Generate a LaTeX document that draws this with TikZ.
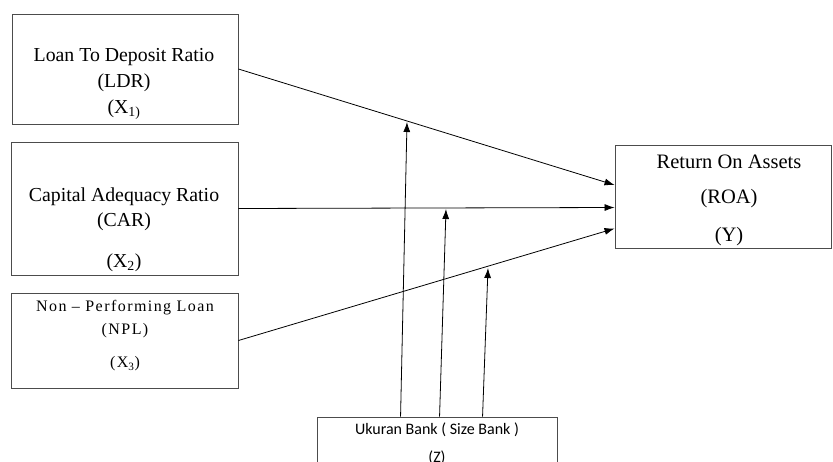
\documentclass[tikz,border=0pt]{standalone}
\usepackage{fontspec}
\setmainfont{Liberation Serif}
\newfontfamily\calibfont{Carlito}
\newfontfamily\spacedfont[LetterSpace=9]{Liberation Serif}
\usetikzlibrary{arrows.meta,calc}
\begin{document}
\begin{tikzpicture}[x=1pt,y=-1pt,
  box/.style={draw=black!70,line width=0.9pt,inner sep=0pt},
  txt/.style={inner sep=0pt,font=\fontsize{19.8}{23}\selectfont},
  rtxt/.style={inner sep=0pt,font=\fontsize{20.5}{24}\selectfont},
  ntxt/.style={inner sep=0pt,font=\fontsize{16}{19}\spacedfont},
  ztxt/.style={inner sep=0pt,font=\fontsize{16}{19}\calibfont},
  conn/.style={line width=0.8pt,-{Latex[length=10pt,width=7pt]}}]
\useasboundingbox (0,0) rectangle (833,461);
% boxes
\node[box,minimum width=226pt,minimum height=110pt] (ldr) at (125,69) {};
\node[box,minimum width=227pt,minimum height=133pt] (car) at (124.5,208.5) {};
\node[box,minimum width=227pt,minimum height=95pt] (npl) at (124.5,340.5) {};
\node[box,minimum width=216pt,minimum height=103pt] (roa) at (723,196.5) {};
\node[box,minimum width=240pt,minimum height=70pt] (uk) at (437,452) {};
% texts
\node[txt] (t1a) at (124,57) {Loan To Deposit Ratio};
\node[txt] (t1b) at (124,83) {(LDR)};
\node[txt] (t1c) at (124,110) {(X\textsubscript{1)}};
\node[txt] (t2a) at (124,197) {Capital Adequacy Ratio};
\node[txt] (t2b) at (124,222) {(CAR)};
\node[txt] (t2c) at (124,263) {(X\textsubscript{2})};
\node[ntxt] (t3a) at (125,308) {Non – Performing Loan};
\node[ntxt] (t3b) at (125,331) {(NPL)};
\node[ntxt] (t3c) at (125,364) {(X\textsubscript{3})};
\node[rtxt] (t4a) at (729,162) {Return On Assets};
\node[rtxt] (t4b) at (729,199) {(ROA)};
\node[rtxt] (t4c) at (729,237) {(Y)};
\node[ztxt] (t5a) at (437,430) {Ukuran Bank ( Size Bank )};
\node[ztxt] (t5b) at (437,458) {(Z)};
% connector points
\coordinate (r1) at ([yshift=11.5pt]roa.west);
\coordinate (r2) at ([yshift=-11pt]roa.west);
\coordinate (r3) at ([yshift=-32pt]roa.west);
\coordinate (s1) at ([xshift=84pt]uk.north west);
\coordinate (s2) at ([xshift=123pt]uk.north west);
\coordinate (s3) at ([xshift=166pt]uk.north west);
\coordinate (m1) at (407,122);
\coordinate (m2) at (446,209);
\coordinate (m3) at (488,268);
% connectors
\draw[conn] (ldr.east) -- (r1);
\draw[conn] (car.east) -- (r2);
\draw[conn] (npl.east) -- (r3);
\draw[conn] (s1) -- (m1);
\draw[conn] (s2) -- (m2);
\draw[conn] (s3) -- (m3);
\end{tikzpicture}
\end{document}
